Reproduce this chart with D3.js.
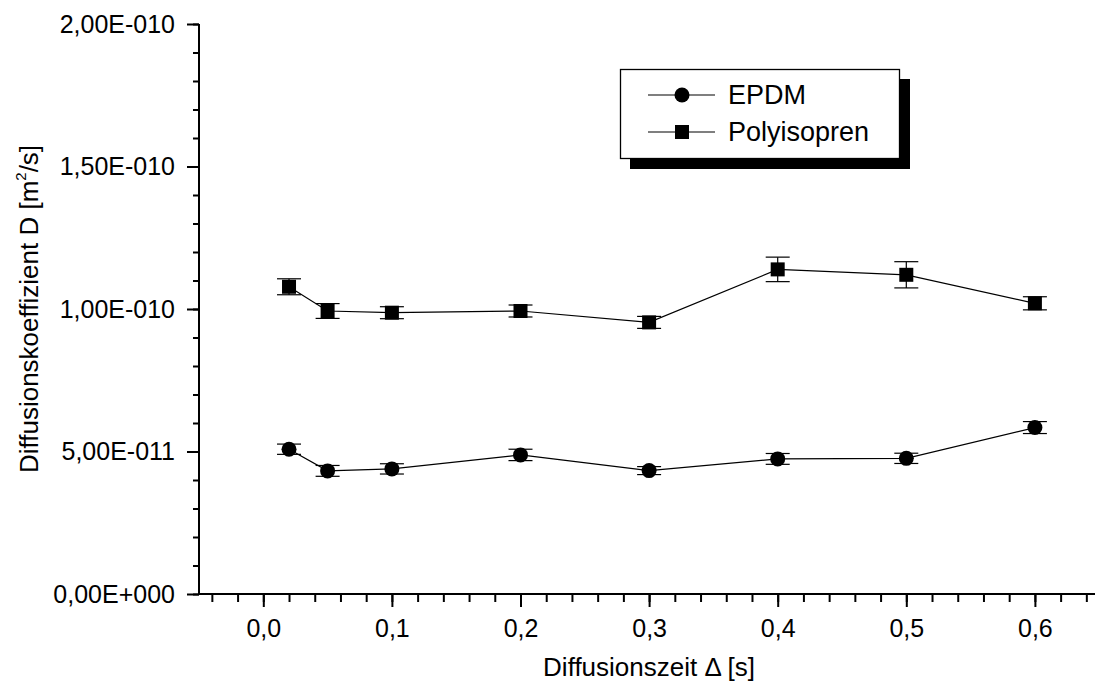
<!DOCTYPE html>
<html>
<head>
<meta charset="utf-8">
<script src="https://cdn.jsdelivr.net/npm/d3@7"></script>
<style>
  body { margin: 0; background: #fff; }
  text { font-family: "Liberation Sans", Arial, sans-serif; fill: #000; }
</style>
</head>
<body>
<div id="chart"></div>
<script>
// data
const times = [0.02, 0.05, 0.1, 0.2, 0.3, 0.4, 0.5, 0.6];
const epdm = [5.08e-11, 4.32e-11, 4.39e-11, 4.88e-11, 4.33e-11, 4.74e-11, 4.76e-11, 5.84e-11];
const epdmErr = [0.18e-11, 0.19e-11, 0.18e-11, 0.2e-11, 0.14e-11, 0.19e-11, 0.18e-11, 0.21e-11];
const poly = [1.078e-10, 0.993e-10, 0.987e-10, 0.993e-10, 0.953e-10, 1.139e-10, 1.12e-10, 1.02e-10];
const polyErr = [0.028e-10, 0.026e-10, 0.021e-10, 0.021e-10, 0.021e-10, 0.043e-10, 0.046e-10, 0.023e-10];

const xTicks = [0, 0.1, 0.2, 0.3, 0.4, 0.5, 0.6];
const xTickLabels = ["0,0", "0,1", "0,2", "0,3", "0,4", "0,5", "0,6"];
const yTicks = [0, 5e-11, 1e-10, 1.5e-10, 2e-10];
const yTickLabels = ["0,00E+000", "5,00E-011", "1,00E-010", "1,50E-010", "2,00E-010"];
const seriesNames = ["EPDM", "Polyisopren"];

const W = 1095, H = 686;
const svg = d3.select("#chart").append("svg")
    .attr("width", W).attr("height", H);
svg.append("rect").attr("width", W).attr("height", H).attr("fill", "#fff");

const x = d3.scaleLinear().domain([-0.05, 0.65]).range([199, 1099.2]);
const y = d3.scaleLinear().domain([0, 2e-10]).range([594, 24]);

// minor ticks
const xMinor = d3.range(-0.04, 0.66, 0.02).map(v => +v.toFixed(2));
const yMinor = d3.range(0, 2.01e-10, 1e-11);

svg.append("g")
    .attr("transform", "translate(0,594)")
    .call(d3.axisBottom(x).tickValues(xMinor).tickSize(8).tickFormat(""))
    .call(g => g.selectAll("line").attr("stroke-width", 2))
    .call(g => g.select(".domain").remove());

svg.append("g")
    .attr("transform", "translate(199,0)")
    .call(d3.axisLeft(y).tickValues(yMinor).tickSize(6).tickFormat(""))
    .call(g => g.selectAll("line").attr("stroke-width", 2))
    .call(g => g.select(".domain").remove());

const xAxis = svg.append("g")
    .attr("transform", "translate(0,594)")
    .call(d3.axisBottom(x).tickValues(xTicks).tickSize(13).tickPadding(12)
        .tickFormat((d, i) => xTickLabels[i]));
xAxis.select(".domain").attr("d", "M199,0H1099").attr("stroke-width", 2);
xAxis.selectAll("line").attr("stroke-width", 2);
xAxis.selectAll("text").attr("font-size", 25);

const yAxis = svg.append("g")
    .attr("transform", "translate(199,0)")
    .call(d3.axisLeft(y).tickValues(yTicks).tickSize(12).tickPadding(12)
        .tickFormat((d, i) => yTickLabels[i]));
yAxis.select(".domain").attr("d", "M0,24V594").attr("stroke-width", 2);
yAxis.selectAll("line").attr("stroke-width", 2);
yAxis.selectAll("text").attr("font-size", 25);

// axis titles
svg.append("text")
    .attr("x", x(0.3)).attr("y", 676)
    .attr("text-anchor", "middle").attr("font-size", 26)
    .text("Diffusionszeit \u0394 [s]");

const yt = svg.append("text")
    .attr("transform", "translate(38,309) rotate(-90)")
    .attr("text-anchor", "middle").attr("font-size", 26);
yt.append("tspan").text("Diffusionskoeffizient D [m");
yt.append("tspan").attr("font-size", 15).attr("dy", -12).text("2");
yt.append("tspan").attr("dy", 12).text("/s]");

// series
const series = [
    { name: seriesNames[0], vals: epdm, err: epdmErr, shape: "circle" },
    { name: seriesNames[1], vals: poly, err: polyErr, shape: "square" }
];
const line = d3.line().x(d => x(d[0])).y(d => y(d[1]));

series.forEach(s => {
    const pts = times.map((t, i) => [t, s.vals[i], s.err[i]]);
    const g = svg.append("g");
    g.append("path").attr("d", line(pts))
        .attr("fill", "none").attr("stroke", "#000").attr("stroke-width", 1.2);
    const eb = g.selectAll(".eb").data(pts).enter().append("g");
    eb.append("line")
        .attr("x1", d => x(d[0])).attr("x2", d => x(d[0]))
        .attr("y1", d => y(d[1] - d[2])).attr("y2", d => y(d[1] + d[2]))
        .attr("stroke", "#000").attr("stroke-width", 1.2);
    [-1, 1].forEach(sg => {
        eb.append("line")
            .attr("x1", d => x(d[0]) - 12).attr("x2", d => x(d[0]) + 12)
            .attr("y1", d => y(d[1] + sg * d[2])).attr("y2", d => y(d[1] + sg * d[2]))
            .attr("stroke", "#000").attr("stroke-width", 1.2);
    });
    if (s.shape === "circle") {
        g.selectAll(".m").data(pts).enter().append("circle")
            .attr("cx", d => x(d[0])).attr("cy", d => y(d[1])).attr("r", 7.5)
            .attr("fill", "#000");
    } else {
        g.selectAll(".m").data(pts).enter().append("rect")
            .attr("x", d => x(d[0]) - 7).attr("y", d => y(d[1]) - 7)
            .attr("width", 14).attr("height", 14).attr("fill", "#000");
    }
});

// legend
const lg = svg.append("g");
lg.append("rect").attr("x", 630).attr("y", 79).attr("width", 280).attr("height", 90).attr("fill", "#000");
lg.append("rect").attr("x", 620.5).attr("y", 69.5).attr("width", 279).attr("height", 89)
    .attr("fill", "#fff").attr("stroke", "#000").attr("stroke-width", 1.3);
series.forEach((s, i) => {
    const ly = 95 + i * 37;
    lg.append("line").attr("x1", 648).attr("x2", 715).attr("y1", ly).attr("y2", ly)
        .attr("stroke", "#000").attr("stroke-width", 1.2);
    if (s.shape === "circle") {
        lg.append("circle").attr("cx", 682).attr("cy", ly).attr("r", 7.5).attr("fill", "#000");
    } else {
        lg.append("rect").attr("x", 675).attr("y", ly - 7).attr("width", 14).attr("height", 14).attr("fill", "#000");
    }
    lg.append("text").attr("x", 728).attr("y", ly + 9).attr("font-size", 27).text(s.name);
});
</script>
</body>
</html>
